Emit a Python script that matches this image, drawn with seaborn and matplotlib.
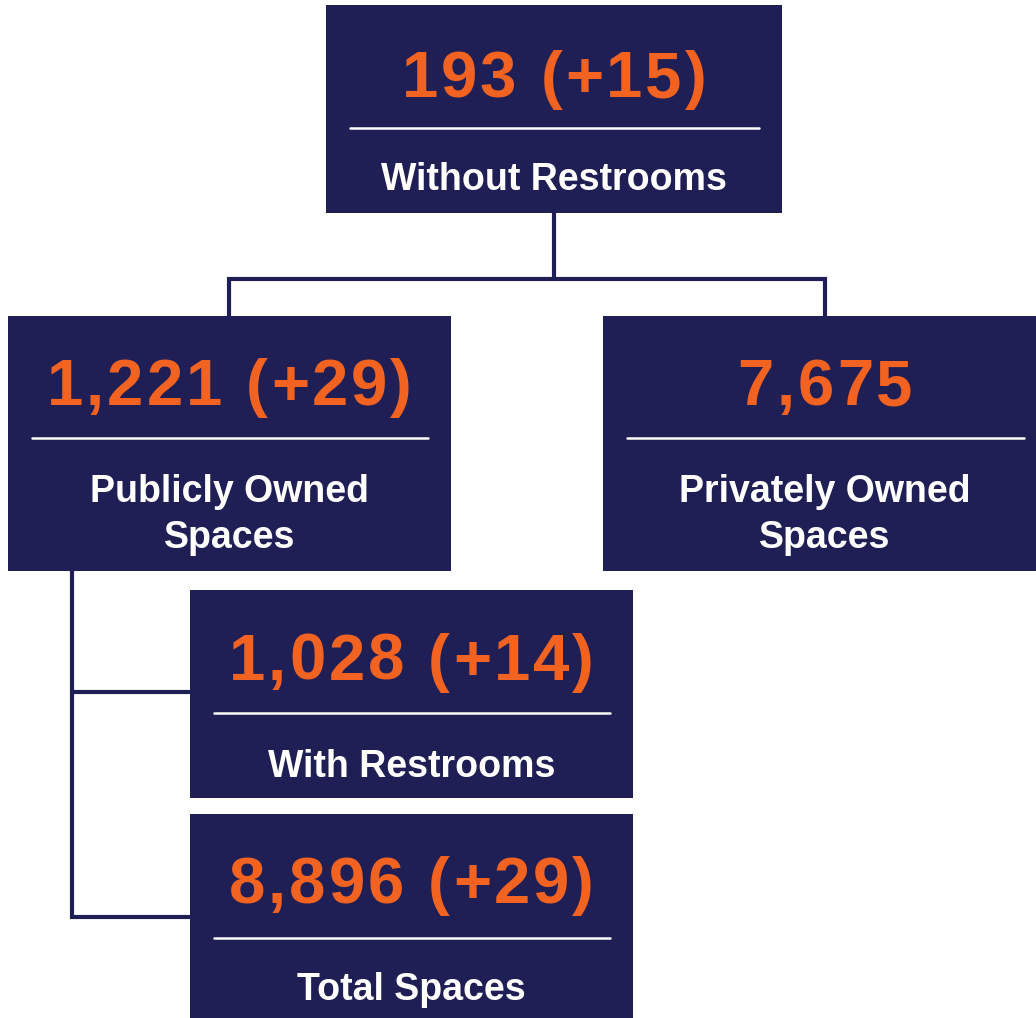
import matplotlib.pyplot as plt
import matplotlib.patches as patches
import seaborn as sns
from matplotlib.font_manager import FontProperties, findfont
from matplotlib.ft2font import FT2Font

# data
labels = ["Without Restrooms", "Publicly Owned\nSpaces", "Privately Owned\nSpaces",
          "With Restrooms", "Total Spaces"]
values = [193, 1221, 7675, 1028, 8896]
changes = [15, 29, None, 14, 29]

NAVY = "#201F55"
ORANGE = "#F26322"

# layout in pixels (x0, y0, x1, y1), divider y, number baseline, label baseline
boxes = [
    (326, 5, 782, 213, 128, 97, 190),
    (8, 316, 451, 571, 438, 405, 502),
    (603, 316, 1047, 571, 438, 405, 502),  # runs off the right edge
    (190, 590, 633, 798, 713, 680, 777),
    (190, 814, 633, 1018, 938, 903, 1000),
]
connectors = [
    [(554, 213), (554, 279)],
    [(229, 316), (229, 279), (825, 279), (825, 316)],
    [(72, 571), (72, 917), (190, 917)],
    [(72, 692), (190, 692)],
]

sns.set_theme(style="white")
plt.rcParams['font.family'] = ['Liberation Sans', 'DejaVu Sans']

NUM_SIZE = 47
TRACK = 3.1  # extra px between number glyphs
num_prop = FontProperties(family="Liberation Sans", weight="bold", size=NUM_SIZE)
num_font = FT2Font(findfont(num_prop), hinting_factor=1)
num_font.set_size(NUM_SIZE, 100)


def advance(c):
    return num_font.load_char(ord(c)).linearHoriAdvance / 65536


def tracked_text(ax, cx, y, s):
    advs = [advance(c) for c in s]
    total = sum(advs) + TRACK * (len(s) - 1)
    x = cx - total / 2
    for c, a in zip(s, advs):
        if c != " ":
            ax.text(x + a / 2, y, c, color=ORANGE, fontproperties=num_prop,
                    ha="center", va="baseline", zorder=4)
        x += a + TRACK


fig = plt.figure(figsize=(10.36, 10.18), dpi=100)
ax = fig.add_axes([0, 0, 1, 1])
ax.set_xlim(0, 1036)
ax.set_ylim(1018, 0)
ax.axis("off")

for pts in connectors:
    xs, ys = zip(*pts)
    ax.plot(xs, ys, color=NAVY, lw=3, solid_joinstyle="miter", solid_capstyle="butt", zorder=1)

for (x0, y0, x1, y1, dy, nb, lb), lab, val, ch in zip(boxes, labels, values, changes):
    ax.add_patch(patches.Rectangle((x0, y0), x1 - x0, y1 - y0, color=NAVY, lw=0, zorder=2))
    cx = (x0 + x1) / 2
    ax.plot([x0 + 24, x1 - 23], [dy, dy], color="white", lw=1.8, zorder=3)
    txt = f"{val:,}" if ch is None else f"{val:,} (+{ch})"
    tracked_text(ax, cx, nb, txt)
    lines = lab.split("\n")
    for i, line in enumerate(lines):
        ax.text(cx, lb + i * 46, line, color="white", fontsize=27, fontweight="bold",
                ha="center", va="baseline", zorder=4)

fig.savefig("out.png", dpi=100)
